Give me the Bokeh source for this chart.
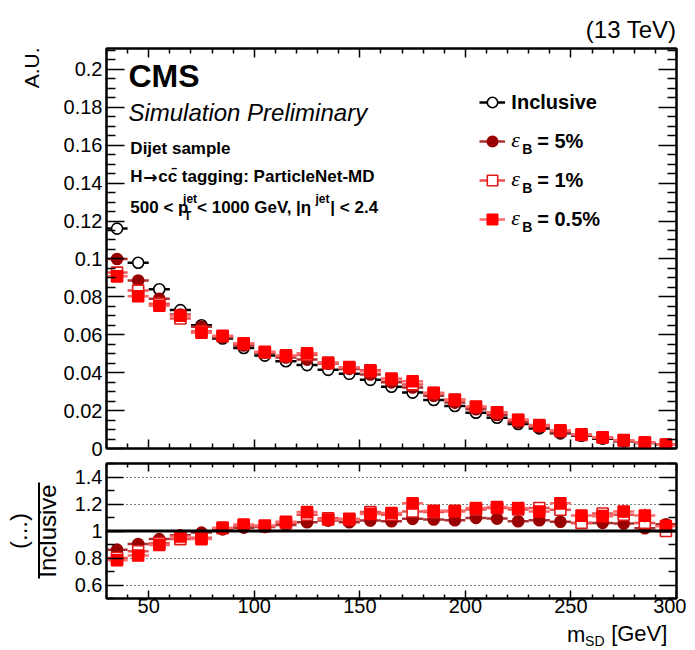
import numpy as np
from bokeh.plotting import figure
from bokeh.layouts import column, row
from bokeh.models import (Range1d, LinearAxis, FixedTicker, Label, Span, BoxAnnotation,
                          Legend, LegendItem, ColumnDataSource, Grid, Title)
from bokeh.embed import file_html
from bokeh.resources import INLINE

# ---------------- data ----------------
bin_lo = [30, 40, 50, 60, 70, 80, 90, 100, 110, 120, 130, 140, 150, 160, 170, 180, 190, 200,
          210, 220, 230, 240, 250, 260, 270, 280, 290]
bin_hi = [40, 50, 60, 70, 80, 90, 100, 110, 120, 130, 140, 150, 160, 170, 180, 190, 200, 210,
          220, 230, 240, 250, 260, 270, 280, 290, 300]

inclusive = [0.116, 0.098, 0.084, 0.073, 0.065, 0.058, 0.053, 0.049, 0.046, 0.044, 0.0415, 0.0394,
             0.0362, 0.0326, 0.0295, 0.0256, 0.0224, 0.0189, 0.0162, 0.0129, 0.0106, 0.0080,
             0.0067, 0.0052, 0.0038, 0.0029, 0.0020]
eff_5 = [0.100, 0.0886, 0.079, 0.0707, 0.0642, 0.0587, 0.0543, 0.0505, 0.048, 0.0469, 0.0447, 0.042,
         0.039, 0.0349, 0.0322, 0.0278, 0.0242, 0.0207, 0.0177, 0.0138, 0.0114, 0.0085, 0.0071,
         0.0055, 0.0040, 0.0030, 0.0021]
eff_1 = [0.0928, 0.0833, 0.0764, 0.0686, 0.0618, 0.0592, 0.0551, 0.0507, 0.0488, 0.0493, 0.0454,
         0.0427, 0.0413, 0.0365, 0.0338, 0.0292, 0.0258, 0.0219, 0.019, 0.015, 0.0124, 0.0093,
         0.0071, 0.0059, 0.0043, 0.0031, 0.0020]
eff_05 = [0.0908, 0.0803, 0.0753, 0.0701, 0.0611, 0.0595, 0.0555, 0.051, 0.0491, 0.0502, 0.045,
          0.0429, 0.0408, 0.0369, 0.0355, 0.0294, 0.0256, 0.0221, 0.0191, 0.0151, 0.0121, 0.0096,
          0.0075, 0.0058, 0.0044, 0.0032, 0.0021]

ratio_5 = [0.862, 0.904, 0.94, 0.969, 0.988, 1.012, 1.025, 1.03, 1.044, 1.065, 1.077, 1.065, 1.077,
           1.072, 1.09, 1.085, 1.08, 1.097, 1.092, 1.072, 1.08, 1.068, 1.06, 1.06, 1.055, 1.02, 1.05]
ratio_1 = [0.80, 0.85, 0.91, 0.94, 0.95, 1.02, 1.04, 1.035, 1.06, 1.12, 1.095, 1.085, 1.14, 1.12,
           1.145, 1.14, 1.15, 1.16, 1.17, 1.16, 1.17, 1.157, 1.06, 1.13, 1.12, 1.06, 1.0]
ratio_05 = [0.783, 0.819, 0.896, 0.96, 0.94, 1.025, 1.048, 1.04, 1.068, 1.14, 1.085, 1.09, 1.126,
            1.133, 1.205, 1.15, 1.145, 1.17, 1.177, 1.17, 1.145, 1.205, 1.114, 1.11, 1.145, 1.114,
            1.036]
ratio_5_err = [0.005, 0.005, 0.005, 0.005, 0.005, 0.005, 0.006, 0.006, 0.006, 0.007, 0.007, 0.007,
               0.008, 0.008, 0.009, 0.009, 0.01, 0.01, 0.011, 0.012, 0.013, 0.014, 0.015, 0.017,
               0.019, 0.021, 0.024]
ratio_1_err = [0.01, 0.01, 0.01, 0.01, 0.01, 0.01, 0.011, 0.011, 0.012, 0.012, 0.013, 0.013, 0.014,
               0.015, 0.016, 0.017, 0.018, 0.019, 0.02, 0.022, 0.024, 0.027, 0.03, 0.033, 0.036,
               0.04, 0.045]
ratio_05_err = [0.012, 0.012, 0.012, 0.012, 0.012, 0.012, 0.013, 0.013, 0.014, 0.015, 0.015, 0.016,
                0.017, 0.018, 0.019, 0.02, 0.021, 0.023, 0.025, 0.027, 0.03, 0.035, 0.038, 0.042,
                0.047, 0.052, 0.045]

x_ticks = [50, 100, 150, 200, 250, 300]
x_tick_labels = ["50", "100", "150", "200", "250", "300"]
x_minor = [30, 40, 60, 70, 80, 90, 110, 120, 130, 140, 160, 170, 180, 190, 210, 220, 230, 240,
           260, 270, 280, 290]
y_ticks_top = [0.0, 0.02, 0.04, 0.06, 0.08, 0.1, 0.12, 0.14, 0.16, 0.18, 0.2]
y_tick_labels_top = ["0", "0.02", "0.04", "0.06", "0.08", "0.1", "0.12", "0.14", "0.16", "0.18", "0.2"]
y_minor_top = [0.005, 0.01, 0.015, 0.025, 0.03, 0.035, 0.045, 0.05, 0.055, 0.065, 0.07, 0.075,
               0.085, 0.09, 0.095, 0.105, 0.11, 0.115, 0.125, 0.13, 0.135, 0.145, 0.15, 0.155,
               0.165, 0.17, 0.175, 0.185, 0.19, 0.195, 0.205, 0.21]
y_ticks_ratio = [0.6, 0.8, 1.0, 1.2, 1.4]
y_tick_labels_ratio = ["0.6", "0.8", "1", "1.2", "1.4"]
y_minor_ratio = [0.5, 0.7, 0.9, 1.1, 1.3, 1.5]
grid_ratio = [0.6, 0.8, 1.2, 1.4]

# ---------------- layout constants (page pixels) ----------------
FONT = "Liberation Sans"
PAGE_H = 650
STRIP_W = 60                     # left text strip
MW = 626                         # main column width
ML, MR = 43, 10
FRAME_W = MW - ML - MR           # 573
PAGE_LEFT = STRIP_W + ML         # 103
X0, X1 = 30, 300
Y0T, Y1T = 0.0, 0.211
Y0R, Y1R = 0.5, 1.5
TOP_FRAME_TOP, TOP_FRAME_H = 48, 400
TOP_H = 460
RAT_FRAME_TOP, RAT_FRAME_H = 463, 135
RAT_H = 159
BOT_TOP = TOP_H + RAT_H          # 619

def px_x(X):
    return X0 + (X - PAGE_LEFT) * (X1 - X0) / FRAME_W

def px_yt(Y):
    return Y0T + (TOP_FRAME_TOP + TOP_FRAME_H - Y) * (Y1T - Y0T) / TOP_FRAME_H

COL_INC = "black"
COL_5 = "#990000"
COL_5L = "#a83030"
COL_1 = "#e01818"
COL_1L = "#e85050"
COL_05 = "#ff0000"
COL_05L = "#ff6a6a"

def make_axis(ticks, minor, labels, tick_in, minor_in, show_labels, standoff=4):
    ax = LinearAxis(ticker=FixedTicker(ticks=ticks, minor_ticks=minor))
    ax.major_tick_in = tick_in
    ax.major_tick_out = 0
    ax.minor_tick_in = minor_in
    ax.minor_tick_out = 0
    ax.axis_line_width = 2
    ax.axis_line_color = "black"
    ax.major_tick_line_width = 1.5
    ax.minor_tick_line_width = 1.5
    ax.major_tick_line_color = "black"
    ax.minor_tick_line_color = "black"
    ax.major_label_overrides = {t: l for t, l in zip(ticks, labels)}
    ax.major_label_text_font = FONT
    if show_labels:
        ax.major_label_text_color = "black"
        ax.major_label_text_font_size = "20px"
        ax.major_label_standoff = standoff
    else:
        ax.major_label_text_color = None
        ax.major_label_text_font_size = "1px"
        ax.major_label_standoff = 0
    return ax

def label(p, x, y, text, size, style="normal", align="left", baseline="middle",
          angle=0.0, font=FONT):
    # y is the vertical centre of the text
    p.add_layout(Label(x=x, y=y, text=text, text_font=font, text_font_size=size,
                       text_font_style=style, text_align=align, text_baseline=baseline,
                       angle=angle, text_color="black"))

def strip(width, height, x0, x1, ytop, ybot):
    f = figure(width=width, height=height, x_range=Range1d(x0, x1), y_range=Range1d(ybot, ytop),
               output_backend="svg", toolbar_location=None, x_axis_type=None, y_axis_type=None,
               min_border_left=0, min_border_right=0, min_border_top=0, min_border_bottom=0)
    f.outline_line_color = None
    f.background_fill_color = "white"
    f.border_fill_color = "white"
    return f

# ---------------- top panel ----------------
top = figure(width=MW, height=TOP_H, x_range=Range1d(X0, X1), y_range=Range1d(Y0T, Y1T),
             output_backend="svg", toolbar_location=None, x_axis_type=None, y_axis_type=None,
             min_border_left=ML, min_border_right=MR, min_border_top=TOP_FRAME_TOP,
             min_border_bottom=TOP_H - TOP_FRAME_TOP - TOP_FRAME_H)
top.outline_line_color = "black"
top.outline_line_width = 2
top.background_fill_color = "white"
top.border_fill_color = "white"

top.add_layout(make_axis(y_ticks_top, y_minor_top, y_tick_labels_top, 18, 9, True), "left")
top.add_layout(make_axis(y_ticks_top, y_minor_top, y_tick_labels_top, 18, 9, False), "right")
top.add_layout(make_axis(x_ticks, x_minor, x_tick_labels, 9, 5, False), "below")
top.add_layout(make_axis(x_ticks, x_minor, x_tick_labels, 9, 5, False), "above")
top.add_layout(Title(text="(13 TeV)", align="right", text_font=FONT, text_font_size="24px",
                     text_font_style="normal", text_color="black", standoff=12, offset=0),
               "above")

lo = np.array(bin_lo, dtype=float)
hi = np.array(bin_hi, dtype=float)
ctr = (lo + hi) / 2

series_top = [
    (inclusive, COL_INC, "circle", "white", COL_INC),
    (eff_5, COL_5L, "circle", COL_5, COL_5),
    (eff_1, COL_1L, "square", "white", COL_1),
    (eff_05, COL_05L, "square", COL_05, COL_05),
]
legend_items = []
for vals, lcol, mk, fill, mline in series_top:
    src = ColumnDataSource(dict(lo=lo, hi=hi, c=ctr, y=vals))
    seg = top.segment(x0="lo", x1="hi", y0="y", y1="y", source=src, line_color=lcol,
                      line_width=2.5)
    sc = top.scatter(x="c", y="y", source=src, marker=mk, size=11, fill_color=fill,
                     line_color=mline, line_width=1.6)
    legend_items.append(LegendItem(label=" ", renderers=[seg, sc]))

leg = Legend(items=legend_items, location=(373, 216), orientation="vertical",
             glyph_width=26, glyph_height=26, spacing=13, padding=0, margin=0,
             border_line_alpha=0, background_fill_alpha=0, label_text_font_size="1px",
             label_standoff=0, label_width=1, label_height=26, label_text_color=None)
top.add_layout(leg)

# texts inside the top frame (y = visual centre)
label(top, px_x(125), px_yt(75), "CMS", "32px", style="bold")
label(top, px_x(125), px_yt(111.5), "Simulation Preliminary", "24px", style="italic")
label(top, px_x(127), px_yt(148), "Dijet sample", "17px", style="bold")
label(top, px_x(127), px_yt(176), "H", "17px", style="bold")
label(top, px_x(140), px_yt(176), "\u2192", "17px", style="bold", font="DejaVu Sans")
label(top, px_x(155), px_yt(176), "cc\u0304 tagging: ParticleNet-MD", "17px", style="bold")
label(top, px_x(127), px_yt(207), "500 < p", "17px", style="bold")
label(top, px_x(180), px_yt(198), "jet", "12px", style="bold")
label(top, px_x(181), px_yt(215), "T", "12px", style="bold")
label(top, px_x(194), px_yt(207), " < 1000 GeV, |\u03b7", "17px", style="bold")
label(top, px_x(313), px_yt(198), "jet", "12px", style="bold")
label(top, px_x(328), px_yt(207), "| < 2.4", "17px", style="bold")

# legend texts
leg_texts = ["= 5%", "= 1%", "= 0.5%"]
label(top, px_x(510), px_yt(101.5), "Inclusive", "20px", style="bold")
for i, t in enumerate(leg_texts):
    yc = 101.5 + 39 * (i + 1)
    label(top, px_x(510), px_yt(yc - 2), "\u03b5", "22px", style="italic", font="Liberation Serif")
    label(top, px_x(521), px_yt(yc + 8), "B", "14px", style="bold")
    label(top, px_x(536), px_yt(yc), t, "20px", style="bold")

# ---------------- ratio panel ----------------
rat = figure(width=MW, height=RAT_H, x_range=top.x_range, y_range=Range1d(Y0R, Y1R),
             output_backend="svg", toolbar_location=None, x_axis_type=None, y_axis_type=None,
             min_border_left=ML, min_border_right=MR,
             min_border_top=RAT_FRAME_TOP - TOP_H,
             min_border_bottom=BOT_TOP - RAT_FRAME_TOP - RAT_FRAME_H)
rat.outline_line_color = "black"
rat.outline_line_width = 2
rat.background_fill_color = "white"
rat.border_fill_color = "white"

rat.add_layout(make_axis(y_ticks_ratio, y_minor_ratio, y_tick_labels_ratio, 17, 8, True), "left")
rat.add_layout(make_axis(y_ticks_ratio, y_minor_ratio, y_tick_labels_ratio, 17, 8, False), "right")
rat.add_layout(make_axis(x_ticks, x_minor, x_tick_labels, 8, 4, True, standoff=0), "below")
rat.add_layout(make_axis(x_ticks, x_minor, x_tick_labels, 8, 4, False), "above")

g = Grid(dimension=1, ticker=FixedTicker(ticks=grid_ratio), grid_line_color="black",
         grid_line_dash="1 3", grid_line_width=1)
rat.add_layout(g)
rat.add_layout(Span(location=1.0, dimension="width", line_color="black", line_width=3))

series_ratio = [
    (ratio_5, ratio_5_err, COL_5L, "circle", COL_5, COL_5),
    (ratio_1, ratio_1_err, COL_1L, "square", "white", COL_1),
    (ratio_05, ratio_05_err, COL_05L, "square", COL_05, COL_05),
]
for vals, errs, lcol, mk, fill, mline in series_ratio:
    v = np.array(vals)
    e = np.array(errs)
    src = ColumnDataSource(dict(lo=lo, hi=hi, c=ctr, y=v, ylo=v - e, yhi=v + e))
    rat.segment(x0="lo", x1="hi", y0="y", y1="y", source=src, line_color=lcol, line_width=2.5)
    rat.segment(x0="c", x1="c", y0="ylo", y1="yhi", source=src, line_color=lcol, line_width=1.5)
    rat.scatter(x="c", y="y", source=src, marker=mk, size=11, fill_color=fill,
                line_color=mline, line_width=1.6)

# ---------------- left text strip (coordinates = page pixels) ----------------
left = strip(STRIP_W, PAGE_H, 0, STRIP_W, 0, PAGE_H)
label(left, 31, 47, "A.U.", "21px", align="right", angle=np.pi / 2)
label(left, 18, 530.5, "(...)", "24px", align="center", angle=np.pi / 2)
label(left, 46.5, 530.5, "Inclusive", "24px", align="center", angle=np.pi / 2)
left.add_layout(BoxAnnotation(left=37.5, right=39.5, top=482, bottom=578, fill_color="black",
                              fill_alpha=1.0, line_color=None))

# ---------------- bottom text strip (coordinates = page pixels) ----------------
bot = strip(MW, PAGE_H - BOT_TOP, STRIP_W, STRIP_W + MW, BOT_TOP, PAGE_H)
label(bot, 676, 632.5, "[GeV]", "22px", align="right")
label(bot, 607, 640, "SD", "14px", align="right")
label(bot, 586, 633.5, "m", "22px", align="right")

page = row(left, column(top, rat, bot, spacing=0), spacing=0)
open("out.html", "w").write(file_html(page, INLINE))
